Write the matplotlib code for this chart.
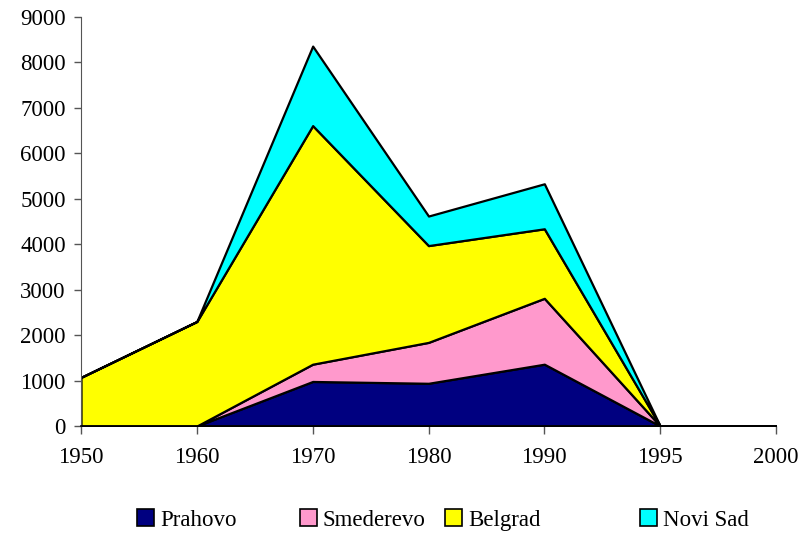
import matplotlib
matplotlib.use("Agg")
import matplotlib.pyplot as plt
from matplotlib.patches import Patch

years = ["1950", "1960", "1970", "1980", "1990", "1995", "2000"]
prahovo = [0, 0, 980, 940, 1360, 0, 0]
smederevo = [0, 0, 380, 900, 1450, 0, 0]
belgrad = [1070, 2300, 5250, 2130, 1530, 0, 0]
novi_sad = [0, 0, 1750, 650, 990, 0, 0]

names = ["Prahovo", "Smederevo", "Belgrad", "Novi Sad"]
colors = ["#000080", "#FF99CC", "#FFFF00", "#00FFFF"]
legend_x = [137, 300, 445, 640]

plt.rcParams["font.family"] = ["Liberation Serif", "DejaVu Serif"]

W, H = 809, 533
fig = plt.figure(figsize=(W / 100, H / 100), dpi=100)
ax = fig.add_axes([81 / W, 1 - 426 / H, 695 / W, 409 / H])

x = list(range(len(years)))
ax.stackplot(x, prahovo, smederevo, belgrad, novi_sad, colors=colors,
             edgecolor="black", linewidth=1.6, zorder=2)

ax.set_xlim(0, len(years) - 1)
ax.set_ylim(0, 9000)
ax.set_yticks(range(0, 9001, 1000))
ax.set_xticks(x)
ax.set_xticklabels(years)

for side in ("top", "right"):
    ax.spines[side].set_visible(False)
ax.spines["left"].set_color("#555555")
ax.spines["bottom"].set_color("black")
ax.spines["bottom"].set_linewidth(1.2)
ax.tick_params(axis="y", direction="out", length=5, width=1, color="#555555",
               labelsize=16.5, pad=6)
ax.tick_params(axis="x", direction="out", length=6, width=1, color="#555555",
               labelsize=16.5, pad=9)

# one legend entry per series, laid out along the bottom
for name, color, lx in zip(names, colors, legend_x):
    handle = Patch(facecolor=color, edgecolor="black", linewidth=1.2, label=name)
    fig.legend(handles=[handle], loc="center left",
               bbox_to_anchor=(lx / W, 1 - 520 / H), frameon=False,
               fontsize=16.5, handlelength=0.75, handleheight=0.75,
               handletextpad=0.25, borderaxespad=0, borderpad=0)

fig.savefig("out.png", dpi=100)
